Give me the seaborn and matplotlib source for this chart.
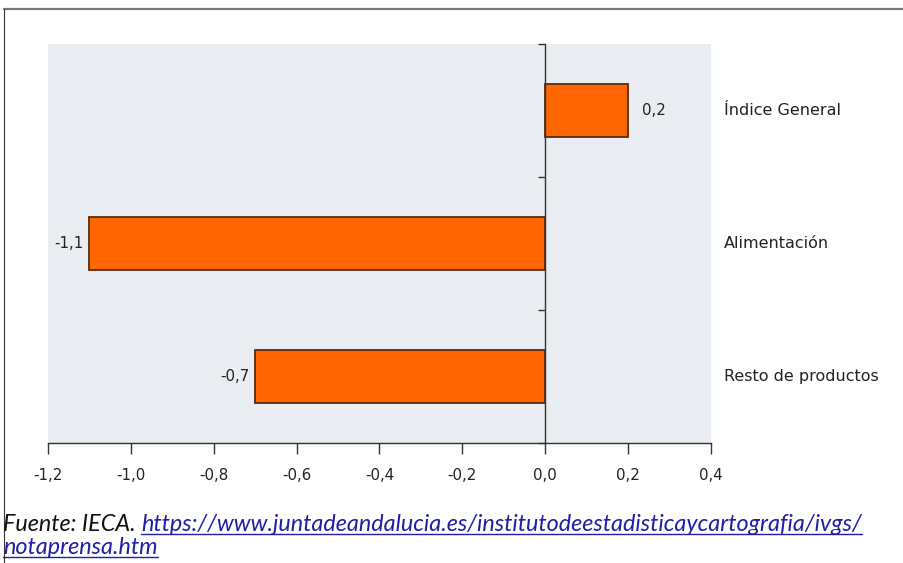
import matplotlib
matplotlib.use("Agg")
import matplotlib.pyplot as plt
import matplotlib.transforms as mtransforms
from matplotlib.lines import Line2D
from matplotlib.ticker import FixedLocator, FuncFormatter
import pandas as pd
import seaborn as sns

# Variation by product group
categories = ["Índice General", "Alimentación", "Resto de productos"]
values = [0.2, -1.1, -0.7]
value_labels = ["0,2", "-1,1", "-0,7"]
x_ticks = [-1.2, -1.0, -0.8, -0.6, -0.4, -0.2, 0.0, 0.2, 0.4]

source_text = "Fuente: IECA. "
link_line1 = "https://www.juntadeandalucia.es/institutodeestadisticaycartografia/ivgs/"
link_line2 = "notaprensa.htm"

df = pd.DataFrame({"categoria": categories, "valor": values})

sns.set_theme(style="white")
plt.rcParams["font.family"] = ["DejaVu Sans"]

fig = plt.figure(figsize=(9.04, 5.63), dpi=100)
ax = fig.add_axes([48 / 904, 120 / 563, 663 / 904, 399 / 563])
ax.set_facecolor("#E9EDF1")

sns.barplot(data=df, y="categoria", x="valor", orient="h", ax=ax,
            color="#FF6600", saturation=1, width=0.4,
            edgecolor="#5A2A10", linewidth=1.3)

ax.set_xlim(-1.2, 0.4)
ax.set_ylim(2.5, -0.5)
ax.set_xlabel("")
ax.set_ylabel("")

# x axis
ax.xaxis.set_major_locator(FixedLocator(x_ticks))
ax.xaxis.set_major_formatter(FuncFormatter(lambda v, p: f"{v:.1f}".replace(".", ",").replace("-0,0", "0,0")))
ax.tick_params(axis="x", direction="out", length=8, width=1, color="#333333",
               labelsize=10.8, labelcolor="#222222", pad=10, bottom=True)

# y axis drawn at zero, ticks between categories
for s in ["top", "right"]:
    ax.spines[s].set_visible(False)
ax.spines["left"].set_position(("data", 0))
ax.spines["left"].set_color("#333333")
ax.spines["left"].set_linewidth(1)
ax.spines["bottom"].set_color("#333333")
ax.spines["bottom"].set_linewidth(1)
ax.set_yticks([-0.5, 0.5, 1.5, 2.5])
ax.set_yticklabels([])
ax.tick_params(axis="y", direction="out", length=5, width=1, color="#333333", left=True)

# value labels
for i, (v, lab) in enumerate(zip(values, value_labels)):
    if v >= 0:
        ax.annotate(lab, (v, i), xytext=(10, 0), textcoords="offset points",
                    ha="left", va="center", fontsize=10.8, color="#222222")
    else:
        ax.annotate(lab, (v, i), xytext=(-4, 0), textcoords="offset points",
                    ha="right", va="center", fontsize=10.8, color="#222222")

# category labels at the right of the plot area
trans = mtransforms.blended_transform_factory(ax.transAxes, ax.transData)
for i, cat in enumerate(categories):
    ax.text(1.02, i, cat, transform=trans, ha="left", va="center",
            fontsize=11.5, color="#222222")

# outer frame lines
fig.add_artist(Line2D([4 / 904, 1.0], [1 - 9 / 563, 1 - 9 / 563],
                      transform=fig.transFigure, color="#777777", linewidth=1.6))
fig.add_artist(Line2D([4 / 904, 4 / 904], [0, 1 - 9 / 563],
                      transform=fig.transFigure, color="#333333", linewidth=0.8))

# source note with underlined link
font_kw = dict(family=["Lato", "DejaVu Sans"], style="italic", fontsize=16.8)
link_color = "#1F1FA6"
t1 = fig.text(3 / 904, 1 - 531 / 563, source_text, color="#111111", va="baseline", **font_kw)
fig.canvas.draw()
renderer = fig.canvas.get_renderer()
bb = t1.get_window_extent(renderer)
x_link = bb.x1 / fig.bbox.width
t2 = fig.text(x_link, 1 - 531 / 563, link_line1, color=link_color, va="baseline", **font_kw)
t3 = fig.text(3 / 904, 1 - 554 / 563, link_line2, color=link_color, va="baseline", **font_kw)
fig.canvas.draw()
for t, ybase in [(t2, 531), (t3, 554)]:
    b = t.get_window_extent(renderer)
    yy = 1 - (ybase + 3) / 563
    fig.add_artist(Line2D([b.x0 / fig.bbox.width, b.x1 / fig.bbox.width], [yy, yy],
                          transform=fig.transFigure, color=link_color, linewidth=1))

fig.savefig("out.png", dpi=100)
